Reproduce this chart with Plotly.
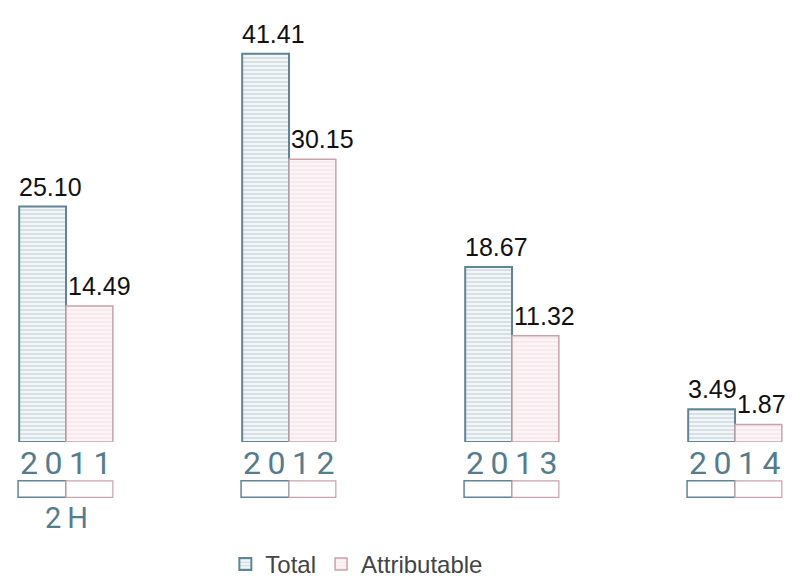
import plotly.graph_objects as go

years = ["2011", "2012", "2013", "2014"]
year_labels = ["2\u20090\u20091\u20091", "2\u20090\u20091\u20092", "2\u20090\u20091\u20093", "2\u20090\u20091\u20094"]
total = [25.10, 41.41, 18.67, 3.49]
attributable = [14.49, 30.15, 11.32, 1.87]
xpos = [0, 1, 2, 3]

blue_line = "#5f8596"
pink_line = "#c9a3ab"
year_color = "#537d8d"
label_font = dict(size=25, color="#111111", family="Liberation Sans, Arial")

fig = go.Figure()
fig.add_trace(go.Bar(
    x=xpos, y=total, name="Total",
    marker=dict(color="#eef3f6", line=dict(color=blue_line, width=2),
                pattern=dict(shape="-", fgcolor="#a3b7c2", bgcolor="#f2f6f8", size=4, solidity=0.35)),
))
fig.add_trace(go.Bar(
    x=xpos, y=attributable, name="Attributable",
    marker=dict(color="#fbf1f3", line=dict(color=pink_line, width=1.5),
                pattern=dict(shape="-", fgcolor="#ecd3d9", bgcolor="#fcf4f6", size=4, solidity=0.3)),
))

annotations = []
shapes = []
for xi, v in zip(xpos, total):
    annotations.append(dict(x=xi, y=v, xref="x", yref="y", text=f"{v:.2f}", showarrow=False,
                            xanchor="left", yanchor="bottom", xshift=-49, yshift=4, font=label_font))
for xi, v in zip(xpos, attributable):
    annotations.append(dict(x=xi, y=v, xref="x", yref="y", text=f"{v:.2f}", showarrow=False,
                            xanchor="left", yanchor="bottom", xshift=0, yshift=4, font=label_font))
for xi, lab in zip(xpos, year_labels):
    annotations.append(dict(x=xi, y=-0.05, xref="x", yref="paper", text=lab, showarrow=False,
                            font=dict(size=32, color=year_color, family="Roboto"), yanchor="middle"))
    shapes.append(dict(type="rect", xref="x", yref="paper", x0=xi - 0.215, x1=xi, y0=-0.131, y1=-0.092,
                       line=dict(color=blue_line, width=1.5), fillcolor="white"))
    shapes.append(dict(type="rect", xref="x", yref="paper", x0=xi, x1=xi + 0.21, y0=-0.131, y1=-0.092,
                       line=dict(color=pink_line, width=1.2), fillcolor="white"))
annotations.append(dict(x=0, y=-0.18, xref="x", yref="paper", text="2\u2009H", showarrow=False,
                        font=dict(size=29, color=year_color, family="Roboto"), yanchor="middle"))

fig.update_layout(
    width=793, height=583,
    margin=dict(l=0, r=0, t=20, b=141, autoexpand=False),
    paper_bgcolor="white", plot_bgcolor="white",
    barmode="group", bargap=0.58, bargroupgap=0,
    xaxis=dict(range=[-0.296, 3.26], visible=False),
    yaxis=dict(range=[0, 45.0], visible=False),
    showlegend=True,
    legend=dict(orientation="h", x=0.45, xanchor="center", y=-0.29, yanchor="middle",
                font=dict(size=24, color="#444444", family="Liberation Sans, Arial")),
    annotations=annotations, shapes=shapes,
)
fig.write_html("out.html")
